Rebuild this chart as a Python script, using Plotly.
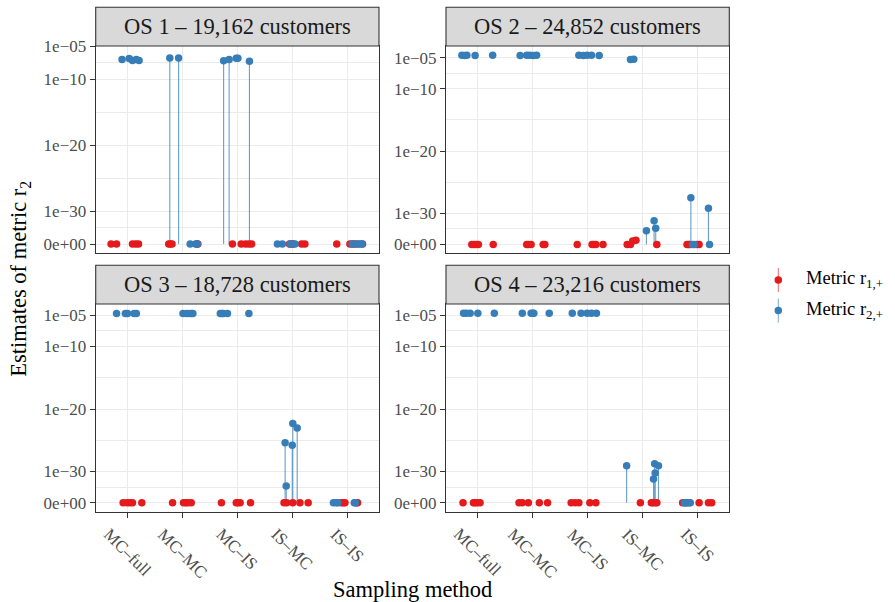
import plotly.graph_objects as go

# ---------------------------------------------------------------------------
# Data: estimates of metric r1,+ and r2,+ for four operating systems (OS),
# five sampling methods, five repetitions each.  Jitter offsets are in
# category units; values are raw estimates (0 = estimate of exactly zero).
# ---------------------------------------------------------------------------
CATEGORIES = ["MC–full", "MC–MC", "MC–IS", "IS–MC", "IS–IS"]
PANEL_TITLES = [
    "OS 1 – 19,162 customers",
    "OS 2 – 24,852 customers",
    "OS 3 – 18,728 customers",
    "OS 4 – 23,216 customers",
]

# ---- OS 1 ----
os1_r1_jitter = [[-0.30, -0.20, 0.09, 0.15, 0.20],
                 [-0.25, -0.22, -0.19, 0.26, 0.28],
                 [-0.09, 0.07, 0.15, 0.21, 0.26],
                 [-0.05, -0.01, 0.01, 0.17, 0.23],
                 [-0.19, 0.05, 0.10, 0.14, 0.28]]
os1_r1_value = [[0, 0, 0, 0, 0]] * 5
os1_r2_jitter = [[-0.10, 0.03, 0.09, 0.16, 0.21],
                 [-0.23, -0.07, 0.14, 0.24, 0.27],
                 [-0.25, -0.15, -0.02, 0.01, 0.22],
                 [-0.27, -0.18, -0.04, 0.02, 0.05],
                 [0.09, 0.17, 0.20, 0.23, 0.27]]
os1_r2_value = [[1.0e-7, 1.4e-7, 7.0e-8, 1.0e-7, 7.0e-8],
                [1.7e-7, 1.7e-7, 0, 0, 0],
                [6.7e-8, 1.0e-7, 1.6e-7, 1.6e-7, 5.4e-8],
                [0, 0, 0, 0, 0],
                [0, 0, 0, 0, 0]]
os1_r2_lower = [[1.0e-7, 1.4e-7, 7.0e-8, 1.0e-7, 7.0e-8],
                [0, 0, 0, 0, 0],
                [0, 0, 1.6e-7, 1.6e-7, 0],
                [0, 0, 0, 0, 0],
                [0, 0, 0, 0, 0]]

# ---- OS 2 ----
os2_r1_jitter = [[-0.11, -0.07, -0.03, 0.01, 0.28],
                 [-0.11, -0.08, -0.03, 0.19, 0.22],
                 [-0.19, 0.08, 0.11, 0.15, 0.28],
                 [-0.28, -0.22, -0.18, -0.12, 0.26],
                 [-0.19, -0.16, -0.14, -0.01, 0.03]]
os2_r1_value = [[0, 0, 0, 0, 0],
                [0, 0, 0, 0, 0],
                [0, 0, 0, 0, 0],
                [0, 0, 2.4e-35, 3.5e-35, 0],
                [0, 0, 0, 0, 0]]
os2_r2_jitter = [[-0.29, -0.24, -0.20, -0.05, 0.27],
                 [-0.23, -0.11, -0.05, 0.01, 0.07],
                 [-0.16, -0.08, -0.01, 0.07, 0.21],
                 [-0.22, -0.16, 0.07, 0.21, 0.24],
                 [-0.12, -0.09, -0.06, 0.20, 0.22]]
os2_r2_value = [[2.4e-5, 2.2e-5, 2.4e-5, 2.3e-5, 2.4e-5],
                [2.3e-5, 2.4e-5, 2.4e-5, 2.3e-5, 2.4e-5],
                [2.4e-5, 2.3e-5, 2.4e-5, 2.4e-5, 2.3e-5],
                [5.0e-6, 5.4e-6, 1.6e-33, 6.3e-32, 4.0e-33],
                [3.2e-28, 0, 0, 6.3e-30, 0]]
os2_r2_lower = [[2.4e-5, 2.2e-5, 2.4e-5, 2.3e-5, 2.4e-5],
                [2.3e-5, 2.4e-5, 2.4e-5, 2.3e-5, 2.4e-5],
                [2.4e-5, 2.3e-5, 2.4e-5, 2.4e-5, 2.3e-5],
                [5.0e-6, 5.4e-6, 0, 0, 0],
                [0, 0, 0, 0, 0]]

# ---- OS 3 ----
os3_r1_jitter = [[-0.08, -0.01, 0.04, 0.09, 0.26],
                 [-0.18, 0.02, 0.06, 0.10, 0.16],
                 [-0.29, -0.02, 0.01, 0.05, 0.24],
                 [-0.15, -0.10, 0.01, 0.14, 0.29],
                 [-0.11, -0.07, -0.04, 0.17, 0.19]]
os3_r1_value = [[0, 0, 0, 0, 0]] * 5
os3_r2_jitter = [[-0.20, -0.04, 0.00, 0.12, 0.16],
                 [0.01, 0.07, 0.12, 0.16, 0.19],
                 [-0.31, -0.28, -0.26, -0.18, 0.21],
                 [-0.13, -0.11, 0.00, 0.01, 0.09],
                 [-0.25, -0.20, -0.17, 0.13, 0.15]]
os3_r2_value = [[1.9e-5, 1.9e-5, 1.9e-5, 1.9e-5, 1.9e-5],
                [1.9e-5, 1.9e-5, 1.9e-5, 1.9e-5, 1.9e-5],
                [1.9e-5, 1.9e-5, 1.9e-5, 1.9e-5, 1.9e-5],
                [4.0e-26, 5.0e-33, 1.6e-26, 5.0e-23, 9.0e-24],
                [0, 0, 0, 0, 0]]
os3_r2_lower = [[1.9e-5, 1.9e-5, 1.9e-5, 1.9e-5, 1.9e-5],
                [1.9e-5, 1.9e-5, 1.9e-5, 1.9e-5, 1.9e-5],
                [1.9e-5, 1.9e-5, 1.9e-5, 1.9e-5, 1.9e-5],
                [0, 0, 0, 0, 0],
                [0, 0, 0, 0, 0]]

# ---- OS 4 ----
os4_r1_jitter = [[-0.27, -0.08, -0.05, -0.01, 0.04],
                 [-0.25, -0.19, -0.08, 0.12, 0.27],
                 [-0.30, -0.23, -0.16, 0.04, 0.15],
                 [-0.04, 0.16, 0.19, 0.23, 0.26],
                 [-0.27, -0.21, 0.03, 0.20, 0.26]]
os4_r1_value = [[0, 0, 0, 0, 0]] * 5
os4_r2_jitter = [[-0.26, -0.21, -0.14, 0.00, 0.30],
                 [-0.19, -0.03, 0.00, 0.02, 0.30],
                 [-0.28, -0.12, -0.01, 0.07, 0.16],
                 [-0.29, 0.20, 0.22, 0.23, 0.29],
                 [-0.24, -0.21, -0.18, -0.15, -0.13]]
os4_r2_value = [[2.1e-5, 2.1e-5, 2.1e-5, 2.1e-5, 2.1e-5],
                [2.1e-5, 2.1e-5, 2.1e-5, 2.1e-5, 2.1e-5],
                [2.1e-5, 2.1e-5, 2.1e-5, 2.1e-5, 2.1e-5],
                [8.0e-30, 6.3e-32, 1.8e-29, 5.6e-31, 8.0e-30],
                [0, 0, 0, 0, 0]]
os4_r2_lower = [[2.1e-5, 2.1e-5, 2.1e-5, 2.1e-5, 2.1e-5],
                [2.1e-5, 2.1e-5, 2.1e-5, 2.1e-5, 2.1e-5],
                [2.1e-5, 2.1e-5, 2.1e-5, 2.1e-5, 2.1e-5],
                [0, 0, 0, 0, 0],
                [0, 0, 0, 0, 0]]

Y_TICK_VALUES = [0, 1e-30, 1e-20, 1e-10, 1e-5]
Y_TICK_LABELS = ["0e+00", "1e−30", "1e−20", "1e−10", "1e−05"]

# ---------------------------------------------------------------------------
# Styling
# ---------------------------------------------------------------------------
RED = "#E41A1C"
BLUE = "#377EB8"
FONT = "Liberation Serif"
W, H = 895, 602
ZERO_SHIFT = 1e-35          # zero is drawn at 1e-35 on the log axis

def shift(v):
    return v + ZERO_SHIFT

def px_x(p):
    return p / W

def px_y(p):
    return 1 - p / H

# panel geometry (pixels)
COL_X = [(95.7, 379.0), (446.0, 729.3)]
ROW_Y = [(46.0, 253.0), (304.0, 511.5)]
STRIP_H = 38.7
Y_RANGES = [(-36.36, -4.95), (-36.38, -3.13), (-36.4, -3.2), (-36.4, -3.2)]

panels = [
    (os1_r1_jitter, os1_r1_value, os1_r2_jitter, os1_r2_value, os1_r2_lower),
    (os2_r1_jitter, os2_r1_value, os2_r2_jitter, os2_r2_value, os2_r2_lower),
    (os3_r1_jitter, os3_r1_value, os3_r2_jitter, os3_r2_value, os3_r2_lower),
    (os4_r1_jitter, os4_r1_value, os4_r2_jitter, os4_r2_value, os4_r2_lower),
]

fig = go.Figure()
shapes = []
annotations = []
layout_axes = {}

for i, (r1j, r1v, r2j, r2v, r2lo) in enumerate(panels):
    row, col = divmod(i, 2)
    suffix = "" if i == 0 else str(i + 1)
    xa, ya = "x" + suffix, "y" + suffix

    # vertical ranges of r2 estimates
    lx, ly = [], []
    for c in range(5):
        for j, v, lo in zip(r2j[c], r2v[c], r2lo[c]):
            if lo != v:
                lx += [c + 1 + j, c + 1 + j, None]
                ly += [shift(lo), shift(v), None]
    fig.add_trace(go.Scatter(x=lx, y=ly, mode="lines", xaxis=xa, yaxis=ya,
                             line=dict(color=BLUE, width=1.1), opacity=0.75,
                             showlegend=False, hoverinfo="skip"))

    for jit, val, colr in ((r1j, r1v, RED), (r2j, r2v, BLUE)):
        xs, ys = [], []
        for c in range(5):
            for j, v in zip(jit[c], val[c]):
                xs.append(c + 1 + j)
                ys.append(shift(v))
        fig.add_trace(go.Scatter(x=xs, y=ys, mode="markers", xaxis=xa, yaxis=ya,
                                 marker=dict(color=colr, size=7.5, line=dict(width=0)),
                                 showlegend=False))

    x0, x1 = COL_X[col]
    y0, y1 = ROW_Y[row]
    bottom = row == 1
    layout_axes["xaxis" + suffix] = dict(
        domain=[px_x(x0), px_x(x1)], anchor=ya, range=[0.42, 5.58], automargin=False,
        tickvals=[1, 2, 3, 4, 5], showticklabels=False,
        ticks="outside" if bottom else "", ticklen=5, tickwidth=1.1, tickcolor="#333333",
        showgrid=True, gridcolor="#EBEBEB", gridwidth=1.3, zeroline=False,
        showline=True, mirror=True, linecolor="#333333", linewidth=1.1,
    )
    layout_axes["yaxis" + suffix] = dict(
        domain=[px_y(y1), px_y(y0)], anchor=xa, type="log", range=list(Y_RANGES[i]),
        automargin=False,
        tickvals=[shift(v) for v in Y_TICK_VALUES], ticktext=Y_TICK_LABELS,
        ticks="outside", ticklen=5, tickwidth=1.1, tickcolor="#333333",
        tickfont=dict(family=FONT, size=17, color="#4D4D4D"),
        showgrid=True, gridcolor="#EBEBEB", gridwidth=1.3, zeroline=False,
        showline=True, mirror=True, linecolor="#333333", linewidth=1.1,
        minor=dict(tickvals=[10 ** -32.5, 1e-25, 1e-15, 10 ** -7.5],
                   showgrid=True, gridcolor="#EBEBEB", gridwidth=0.7, ticks=""),
    )

    # facet strip
    shapes.append(dict(type="rect", xref="paper", yref="paper",
                       x0=px_x(x0), x1=px_x(x1), y0=px_y(y0), y1=px_y(y0 - STRIP_H),
                       fillcolor="#D9D9D9", line=dict(color="#333333", width=1.1),
                       layer="above"))
    annotations.append(dict(text=PANEL_TITLES[i], xref="paper", yref="paper",
                            x=px_x((x0 + x1) / 2), y=px_y(y0 - STRIP_H / 2),
                            xanchor="center", yanchor="middle", showarrow=False,
                            font=dict(family=FONT, size=22.5, color="#1A1A1A")))

    # rotated category labels on the bottom row
    if bottom:
        for k, name in enumerate(CATEGORIES):
            annotations.append(dict(text=name, xref=xa, yref="paper",
                                    x=k + 1, y=px_y(522), xanchor="center",
                                    yanchor="top", textangle=45, showarrow=False,
                                    font=dict(family=FONT, size=17, color="#4D4D4D")))

# axis titles
annotations.append(dict(text="Sampling method", xref="paper", yref="paper",
                        x=px_x(412.5), y=px_y(589), xanchor="center", yanchor="middle",
                        showarrow=False, font=dict(family=FONT, size=22.5, color="black")))
annotations.append(dict(text="Estimates of metric r<sub>2</sub>", xref="paper", yref="paper",
                        x=px_x(20), y=px_y(278.75), xanchor="center", yanchor="middle",
                        textangle=-90, showarrow=False,
                        font=dict(family=FONT, size=22.5, color="black")))

# legend keys
for label, colr, cy in (("Metric r<sub>1,+</sub>", RED, 280), ("Metric r<sub>2,+</sub>", BLUE, 310.5)):
    shapes.append(dict(type="line", xref="paper", yref="paper",
                       x0=px_x(778.3), x1=px_x(778.3), y0=px_y(cy - 12), y1=px_y(cy + 12),
                       line=dict(color=colr, width=1.1), opacity=0.6))
    shapes.append(dict(type="circle", xref="paper", yref="paper",
                       xsizemode="pixel", ysizemode="pixel",
                       xanchor=px_x(778.3), yanchor=px_y(cy),
                       x0=-3.75, x1=3.75, y0=-3.75, y1=3.75,
                       fillcolor=colr, line=dict(width=0)))
    annotations.append(dict(text=label, xref="paper", yref="paper",
                            x=px_x(804), y=px_y(cy), xanchor="left", yanchor="middle",
                            showarrow=False, font=dict(family=FONT, size=18.5, color="black")))

fig.update_layout(
    width=W, height=H, margin=dict(l=0, r=0, t=0, b=0, pad=0, autoexpand=False),
    paper_bgcolor="white", plot_bgcolor="white",
    showlegend=False, shapes=shapes, annotations=annotations,
    font=dict(family=FONT),
    **layout_axes,
)

fig.write_html("out.html")
